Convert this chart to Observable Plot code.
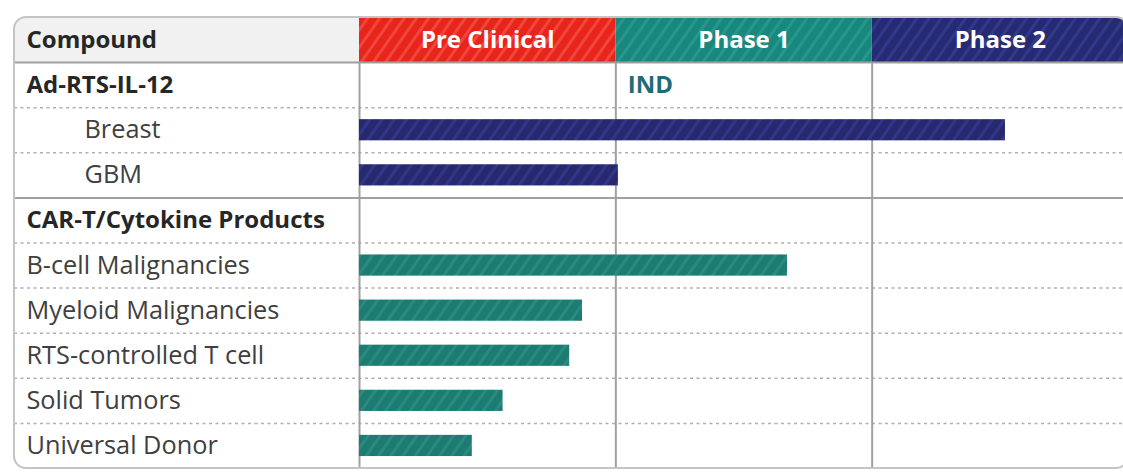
<!DOCTYPE html>
<html>
<head>
<meta charset="utf-8">
<script src="https://cdn.jsdelivr.net/npm/d3@7"></script>
<script src="https://cdn.jsdelivr.net/npm/@observablehq/plot@0.6"></script>
<style>
  html, body { margin: 0; padding: 0; background: #ffffff; }
  #chart svg { display: block; }
</style>
</head>
<body>
<div id="chart"></div>
<script>
// ---- Data ----
const headerLabel = "Compound";
const stages = ["Pre Clinical", "Phase 1", "Phase 2"];
const rowLabels = [
  "Ad-RTS-IL-12", "Breast", "GBM",
  "CAR-T/Cytokine Products", "B-cell Malignancies", "Myeloid Malignancies",
  "RTS-controlled T cell", "Solid Tumors", "Universal Donor"
];
const rowLevels = [0, 2, 2, 0, 1, 1, 1, 1, 1]; // 0 = program heading, 1 = item, 2 = indented item
const rowProgram = [
  "Ad-RTS-IL-12", "Ad-RTS-IL-12", "Ad-RTS-IL-12",
  "CAR-T", "CAR-T", "CAR-T", "CAR-T", "CAR-T", "CAR-T"
];
// progress measured in stages (0 = start of Pre Clinical, 1 = start of Phase 1, ...)
const rowProgress = [null, 2.52, 1.01, null, 1.67, 0.87, 0.82, 0.56, 0.44];
const milestoneRows = ["Ad-RTS-IL-12"];
const milestoneAt = [1];
const milestoneText = ["IND"];

// ---- Styling / layout ----
const labelStart = -1.346; // left edge of the label column, in stage units
const stageFills = ["url(#hdr0)", "url(#hdr1)", "url(#hdr2)"];
const programFill = {"Ad-RTS-IL-12": "url(#barNavy)", "CAR-T": "url(#barTeal)"};
const font = "'Open Sans', Lato, sans-serif";
const fsReg = 25.3, fsBold = 24;

const rows = rowLabels.map((label, i) => ({
  label, level: rowLevels[i], program: rowProgram[i], progress: rowProgress[i], idx: i + 1
}));
const bars = rows.filter(d => d.progress != null);
const milestones = milestoneRows.map((r, i) => ({
  idx: rowLabels.indexOf(r) + 1, at: milestoneAt[i], text: milestoneText[i]
}));
const stageCells = stages.map((s, i) => ({label: s, x1: i, x2: i + 1}));
const nRows = rowLabels.length + 1;
const solidRules = [1, rowLabels.indexOf("CAR-T/Cytokine Products") + 1];
const dashedRules = d3.range(2, nRows).filter(v => !solidRules.includes(v));

const chart = Plot.plot({
  width: 1123,
  height: 473,
  margin: 0,
  x: {domain: [labelStart, 3], range: [14, 1128], axis: null},
  y: {domain: [0, nRows], range: [17, 468], axis: null},
  color: {type: "identity"},
  style: {fontFamily: font, background: "#ffffff"},
  marks: [
    // header cells
    Plot.rect([headerLabel], {x1: labelStart, x2: 0, y1: 0, y2: 1, fill: "#f1f1f1"}),
    Plot.rect(stageCells, {x1: "x1", x2: "x2", y1: 0, y2: 1, fill: (d, i) => stageFills[i]}),
    // grid lines
    Plot.ruleY(dashedRules, {x1: labelStart, x2: 3, stroke: "#b0b0b0", strokeWidth: 1.5, strokeDasharray: "3,3.5"}),
    Plot.ruleY(solidRules, {x1: labelStart, x2: 3, stroke: "#a0a0a0", strokeWidth: 2}),
    Plot.ruleX([0, 1, 2], {y1: 1, y2: nRows, stroke: "#a0a0a0", strokeWidth: 2}),
    // bars
    Plot.rect(bars, {x1: 0, x2: "progress", y1: d => d.idx + 0.265, y2: d => d.idx + 0.735,
      fill: d => programFill[d.program]}),
    // header text
    Plot.text([headerLabel], {x: labelStart, y: 0.5, text: d => d, textAnchor: "start", dx: 12,
      fontSize: fsBold, fontWeight: "bold", fill: "#262626"}),
    Plot.text(stageCells, {x: d => (d.x1 + d.x2) / 2, y: 0.5, text: "label",
      fontSize: fsBold, fontWeight: "bold", fill: "#ffffff"}),
    // row labels
    Plot.text(rows.filter(d => d.level === 0), {x: labelStart, y: d => d.idx + 0.5, text: "label",
      textAnchor: "start", dx: 12, fontSize: fsBold, fontWeight: "bold", fill: "#262626"}),
    Plot.text(rows.filter(d => d.level === 1), {x: labelStart, y: d => d.idx + 0.5, text: "label",
      textAnchor: "start", dx: 12, fontSize: fsReg, fill: "#404040"}),
    Plot.text(rows.filter(d => d.level === 2), {x: labelStart, y: d => d.idx + 0.5, text: "label",
      textAnchor: "start", dx: 70, fontSize: fsReg, fill: "#404040"}),
    // milestones
    Plot.text(milestones, {x: "at", y: d => d.idx + 0.5, text: "text", textAnchor: "start", dx: 12,
      fontSize: fsBold, fontWeight: "bold", fill: "#1d6d78"})
  ]
});

// patterns and rounded clip
const sx = chart.scale("x"), sy = chart.scale("y");
const X0 = sx.apply(labelStart), X1 = sx.apply(3), Y0 = sy.apply(0), Y1 = sy.apply(nRows);
const ns = "http://www.w3.org/2000/svg";
const defs = document.createElementNS(ns, "defs");
function pattern(id, base, stripe, w, sw) {
  const p = document.createElementNS(ns, "pattern");
  p.setAttribute("id", id);
  p.setAttribute("patternUnits", "userSpaceOnUse");
  p.setAttribute("width", w);
  p.setAttribute("height", w);
  p.setAttribute("patternTransform", "rotate(35)");
  const r1 = document.createElementNS(ns, "rect");
  r1.setAttribute("width", w); r1.setAttribute("height", w); r1.setAttribute("fill", base);
  const r2 = document.createElementNS(ns, "rect");
  r2.setAttribute("width", sw); r2.setAttribute("height", w); r2.setAttribute("fill", stripe);
  p.appendChild(r1); p.appendChild(r2);
  defs.appendChild(p);
}
pattern("hdr0", "#e8241b", "#f0463d", 10, 3);
pattern("hdr1", "#18877d", "#27968c", 10, 3);
pattern("hdr2", "#262a73", "#333989", 10, 3);
pattern("barNavy", "#27296e", "#323688", 10, 3);
pattern("barTeal", "#1d7c72", "#2a8a80", 10, 3);
const cp = document.createElementNS(ns, "clipPath");
cp.setAttribute("id", "roundClip");
const cr = document.createElementNS(ns, "rect");
cr.setAttribute("x", X0); cr.setAttribute("y", Y0);
cr.setAttribute("width", X1 - X0); cr.setAttribute("height", Y1 - Y0);
cr.setAttribute("rx", 12);
cp.appendChild(cr);
defs.appendChild(cp);
chart.insertBefore(defs, chart.firstChild);
const content = document.createElementNS(ns, "g");
content.setAttribute("clip-path", "url(#roundClip)");
Array.from(chart.children).forEach(c => { if (c !== defs && c.tagName !== "style") content.appendChild(c); });
chart.appendChild(content);
const frame = document.createElementNS(ns, "rect");
frame.setAttribute("x", X0); frame.setAttribute("y", Y0);
frame.setAttribute("width", X1 - X0); frame.setAttribute("height", Y1 - Y0);
frame.setAttribute("rx", 12);
frame.setAttribute("fill", "none");
frame.setAttribute("stroke", "#c4c4c4");
frame.setAttribute("stroke-width", 2);
chart.appendChild(frame);

document.getElementById("chart").appendChild(chart);
</script>
</body>
</html>
